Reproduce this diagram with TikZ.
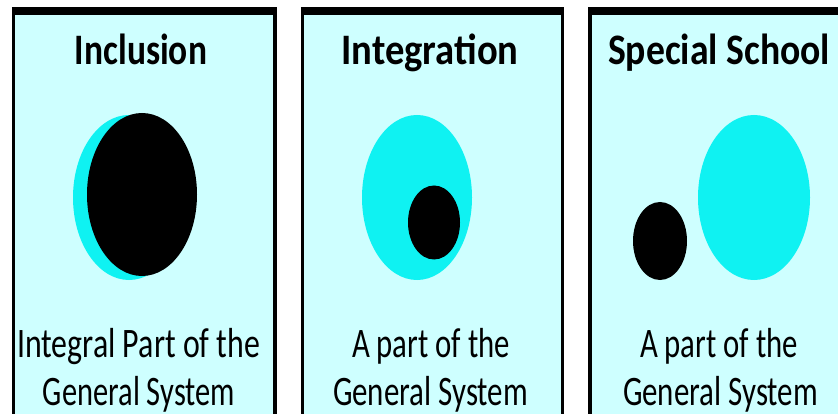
\documentclass[tikz,border=0pt]{standalone}
\usepackage{fontspec}
\setmainfont{Carlito}
\usepackage{graphicx}
\usetikzlibrary{shapes.geometric}
\definecolor{panelbg}{RGB}{206,255,255}
\definecolor{blob}{RGB}{15,242,242}
\newcommand{\fitw}[2]{\resizebox{#1}{\height}{#2}}
\tikzset{
  panelfill/.style={fill=panelbg},
  sideline/.style={line width=3.5pt, draw=black},
  topline/.style={line width=8pt, draw=black},
  titletext/.style={anchor=base, inner sep=0pt, font=\fontsize{43.5}{43.5}\selectfont\bfseries},
  captext/.style={anchor=base, inner sep=0pt, font=\fontsize{42}{42}\selectfont},
  bigblob/.style={ellipse, fill=blob, inner sep=0pt},
  darkblob/.style={ellipse, fill=black, inner sep=0pt}
}
\begin{document}
\begin{tikzpicture}[x=1pt,y=-1pt]
\useasboundingbox (0,0) rectangle (838,414);
\clip (0,0) rectangle (838,414);
\fill[white] (0,0) rectangle (838,414);
% panels
\fill[panelfill] (13.5,11) rectangle (275,430);
\fill[panelfill] (302.5,11) rectangle (562.5,430);
\fill[panelfill] (590,11) rectangle (860,430);
\draw[sideline] (13.5,430) -- (13.5,11);
\draw[sideline] (275,430) -- (275,11);
\draw[sideline] (302.5,430) -- (302.5,11);
\draw[sideline] (562.5,430) -- (562.5,11);
\draw[sideline] (590,430) -- (590,11);
\draw[topline] (11.75,11) -- (276.75,11);
\draw[topline] (300.75,11) -- (564.25,11);
\draw[topline] (588.25,11) -- (860,11);
% titles
\node[titletext] (t1) at (141,65) {\fitw{132pt}{Inclusion}};
\node[titletext] (t2) at (430,65) {\fitw{177pt}{Integration}};
\node[titletext] (t3) at (719,65) {\fitw{222pt}{Special School}};
% blobs
\node[bigblob, minimum width=112pt, minimum height=165pt] (c1) at (129,197.5) {};
\node[darkblob, minimum width=110pt, minimum height=163pt] (k1) at (142,194.5) {};
\node[bigblob, minimum width=110pt, minimum height=165pt] (c2) at (417,197.5) {};
\node[darkblob, minimum width=52pt, minimum height=74pt] (k2) at (434,222.5) {};
\node[bigblob, minimum width=112pt, minimum height=165pt] (c3) at (754,197.5) {};
\node[darkblob, minimum width=54pt, minimum height=78pt] (k3) at (660,241) {};
% captions
\node[captext] (a1) at (138.5,357) {\fitw{243pt}{Integral Part of the}};
\node[captext] (b1) at (139,405) {\fitw{192pt}{General System}};
\node[captext] (a2) at (431,357) {\fitw{158pt}{A part of the}};
\node[captext] (b2) at (430.5,405) {\fitw{195pt}{General System}};
\node[captext] (a3) at (719,357) {\fitw{158pt}{A part of the}};
\node[captext] (b3) at (720.5,405) {\fitw{195pt}{General System}};
\end{tikzpicture}
\end{document}
